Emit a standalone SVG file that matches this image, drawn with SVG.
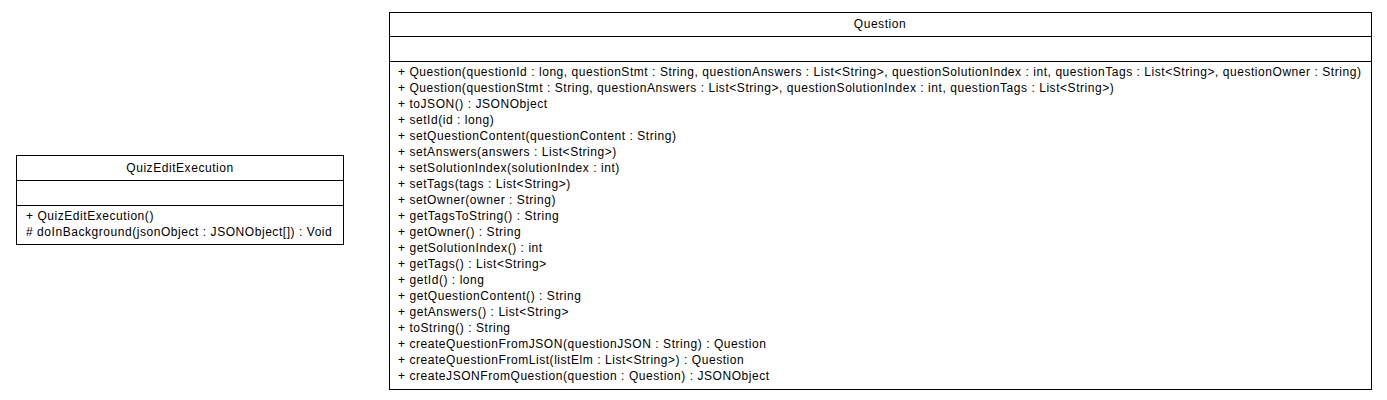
<svg xmlns="http://www.w3.org/2000/svg" width="1387" height="400" viewBox="0 0 1387 400">
<style>
text{font-family:"Liberation Sans",Arial,sans-serif;font-size:12px;letter-spacing:0.55px;fill:#000}
.c{text-anchor:middle}
.box{fill:#fff;stroke:#000;stroke-width:1}
.sep{stroke:#000;stroke-width:1}
</style>
<rect width="1387" height="400" fill="#fff"/>
<g id="QuizEditExecution">
<rect class="box" x="16.5" y="155.5" width="327" height="89"/>
<line class="sep" x1="16.5" y1="180.5" x2="343.5" y2="180.5"/>
<line class="sep" x1="16.5" y1="205.5" x2="343.5" y2="205.5"/>
<text class="c" x="180" y="172">QuizEditExecution</text>
<text x="26" y="220">+ QuizEditExecution()</text>
<text x="26" y="236"># doInBackground(jsonObject : JSONObject[]) : Void</text>
</g>
<g id="Question">
<rect class="box" x="389.5" y="12.5" width="982" height="377"/>
<line class="sep" x1="389.5" y1="36.5" x2="1371.5" y2="36.5"/>
<line class="sep" x1="389.5" y1="61.5" x2="1371.5" y2="61.5"/>
<text class="c" x="880" y="28">Question</text>
<text x="398" y="76">+ Question(questionId : long, questionStmt : String, questionAnswers : List&lt;String&gt;, questionSolutionIndex : int, questionTags : List&lt;String&gt;, questionOwner : String)</text>
<text x="398" y="92">+ Question(questionStmt : String, questionAnswers : List&lt;String&gt;, questionSolutionIndex : int, questionTags : List&lt;String&gt;)</text>
<text x="398" y="108">+ toJSON() : JSONObject</text>
<text x="398" y="124">+ setId(id : long)</text>
<text x="398" y="140">+ setQuestionContent(questionContent : String)</text>
<text x="398" y="156">+ setAnswers(answers : List&lt;String&gt;)</text>
<text x="398" y="172">+ setSolutionIndex(solutionIndex : int)</text>
<text x="398" y="188">+ setTags(tags : List&lt;String&gt;)</text>
<text x="398" y="204">+ setOwner(owner : String)</text>
<text x="398" y="220">+ getTagsToString() : String</text>
<text x="398" y="236">+ getOwner() : String</text>
<text x="398" y="252">+ getSolutionIndex() : int</text>
<text x="398" y="268">+ getTags() : List&lt;String&gt;</text>
<text x="398" y="284">+ getId() : long</text>
<text x="398" y="300">+ getQuestionContent() : String</text>
<text x="398" y="316">+ getAnswers() : List&lt;String&gt;</text>
<text x="398" y="332">+ toString() : String</text>
<text x="398" y="348">+ createQuestionFromJSON(questionJSON : String) : Question</text>
<text x="398" y="364">+ createQuestionFromList(listElm : List&lt;String&gt;) : Question</text>
<text x="398" y="380">+ createJSONFromQuestion(question : Question) : JSONObject</text>
</g>
<g id="connectors"/>
</svg>
